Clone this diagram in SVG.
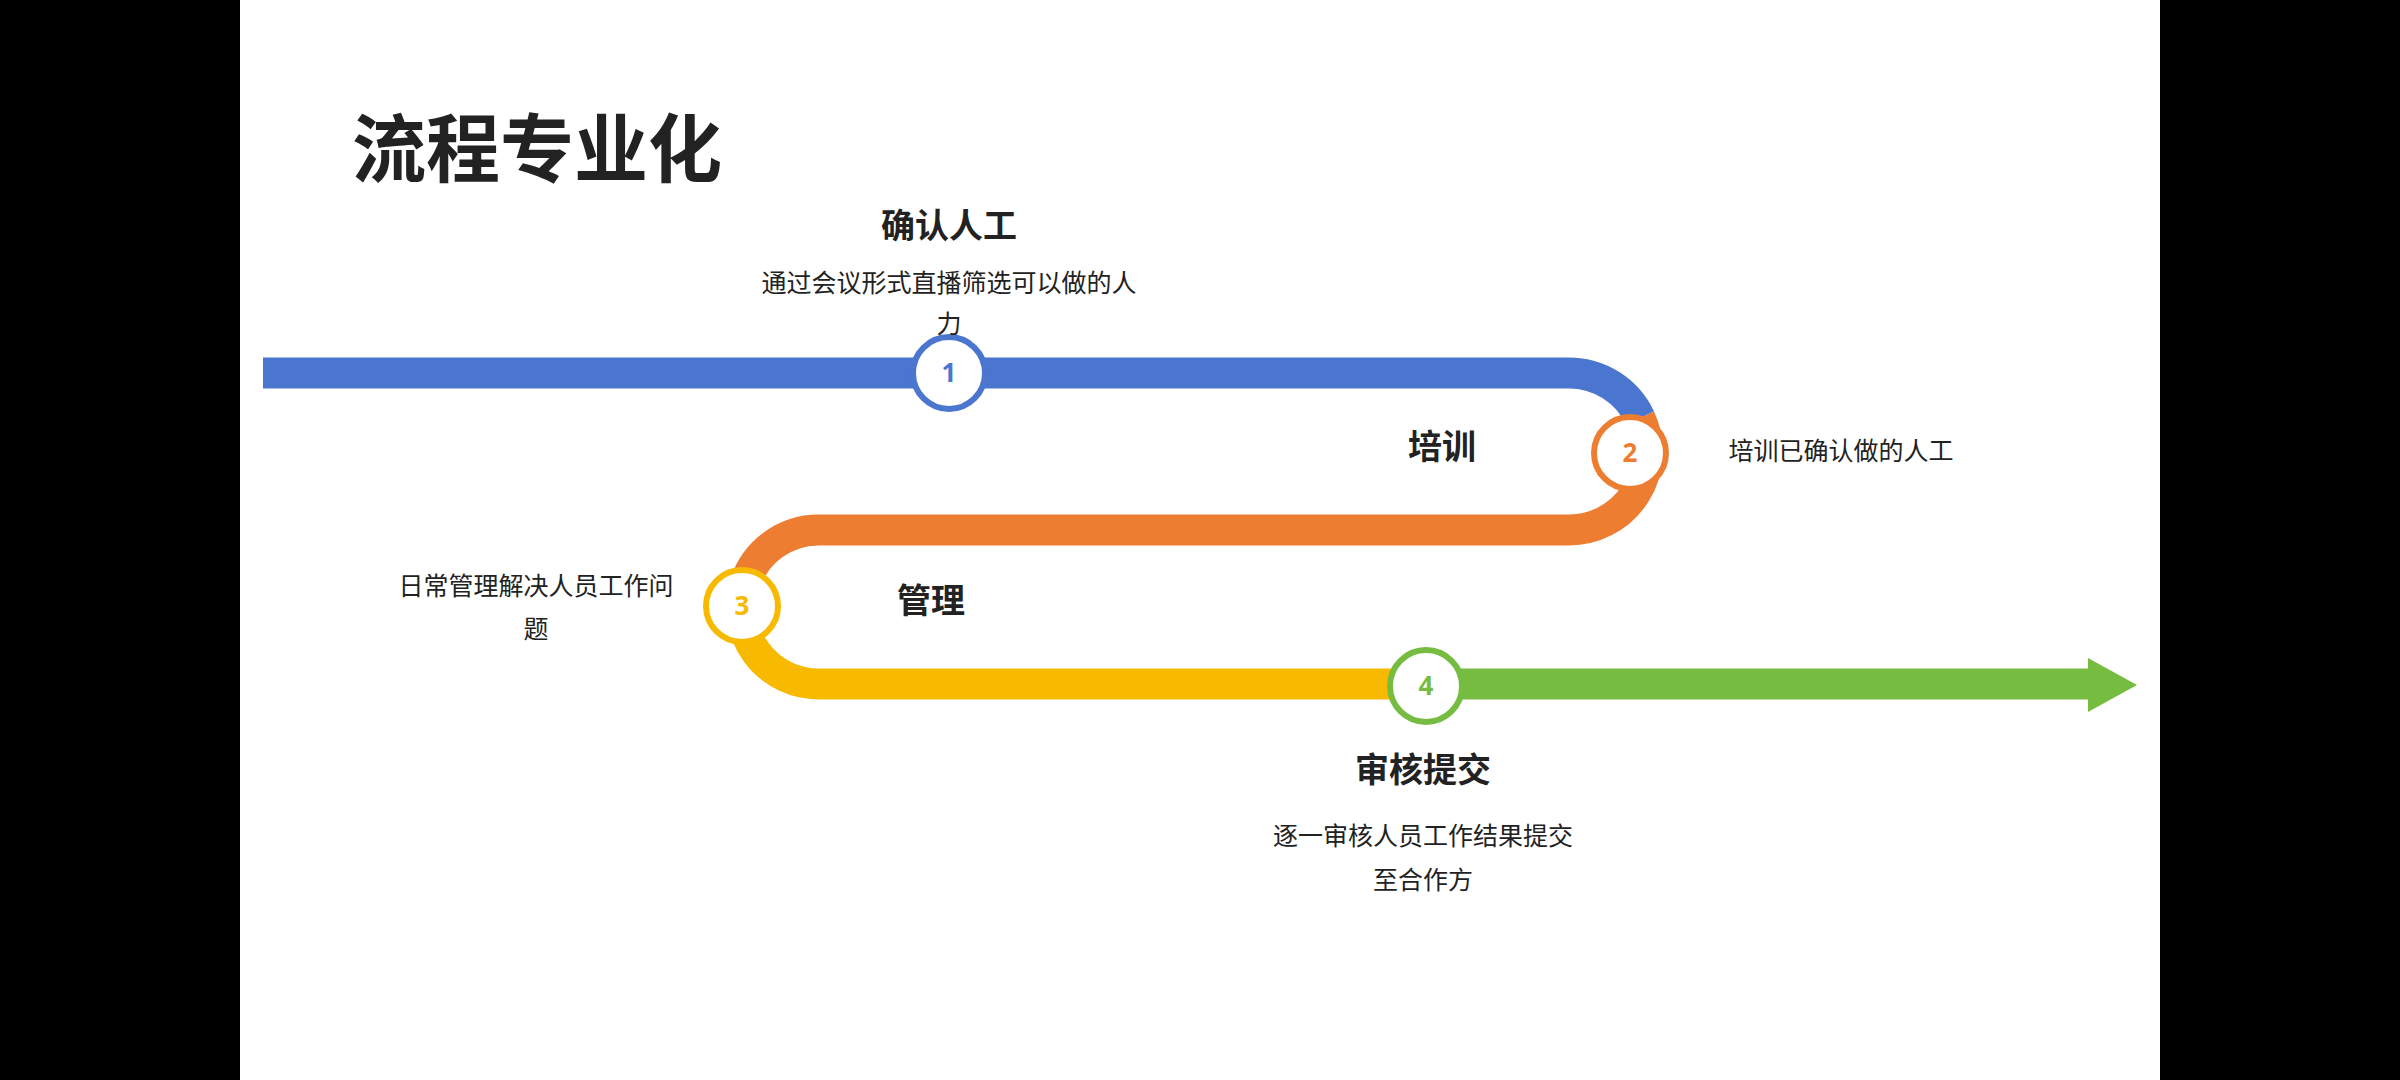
<svg xmlns="http://www.w3.org/2000/svg" width="2400" height="1080" viewBox="0 0 2400 1080">
<style>
.t{font-family:"Noto Sans CJK SC","Noto Sans",sans-serif;fill:#222;text-anchor:middle}
.h{font-weight:bold;font-size:34px}
.b{font-size:25px}
.ln{fill:none;stroke-width:31}
.c{fill:#fff;stroke-width:6}
.n{font-family:"Noto Sans","Liberation Sans",sans-serif;font-weight:bold;font-size:26px;text-anchor:middle}
</style>
<rect width="2400" height="1080" fill="#000"/>
<rect x="240" width="1920" height="1080" fill="#fff"/>
<text class="t" x="352" y="176" style="font-size:74px;font-weight:bold;text-anchor:start" transform="translate(0,0)" dx="0">流程专业化</text>
<g id="connectors">
<path class="ln" stroke="#4A76CF" d="M263 373 H1569 A78.5 78.5 0 0 1 1640 418"/>
<path class="ln" stroke="#ED7D31" d="M1640 418 A78.5 78.5 0 0 1 1569 530 H819 A77 77 0 0 0 745 584"/>
<path class="ln" stroke="#F7BA00" d="M745 584 A77 77 0 0 0 819 684 H1426"/>
<path class="ln" stroke="#76BC41" d="M1426 684 H2090"/>
<polygon fill="#76BC41" points="2088,658 2137,685 2088,712"/>
</g>
<g id="node1"><circle class="c" stroke="#4A76CF" cx="949" cy="373" r="36"/><text class="n" fill="#4A76CF" x="949" y="382">1</text>
<text class="t h" x="949" y="238">确认人工</text><text class="t b" x="949" y="292">通过会议形式直播筛选可以做的人</text><text class="t b" x="949" y="333">力</text></g>
<g id="node2"><circle class="c" stroke="#ED7D31" cx="1630" cy="453" r="36"/><text class="n" fill="#ED7D31" x="1630" y="462">2</text>
<text class="t h" x="1442" y="459">培训</text><text class="t b" x="1841" y="460">培训已确认做的人工</text></g>
<g id="node3"><circle class="c" stroke="#F7BA00" cx="742" cy="606" r="36"/><text class="n" fill="#F7BA00" x="742" y="615">3</text>
<text class="t h" x="931" y="613">管理</text><text class="t b" x="536" y="595">日常管理解决人员工作问</text><text class="t b" x="536" y="638">题</text></g>
<g id="node4"><circle class="c" stroke="#76BC41" cx="1426" cy="686" r="36"/><text class="n" fill="#76BC41" x="1426" y="695">4</text>
<text class="t h" x="1423" y="782">审核提交</text><text class="t b" x="1423" y="845">逐一审核人员工作结果提交</text><text class="t b" x="1423" y="889">至合作方</text></g>
</svg>
